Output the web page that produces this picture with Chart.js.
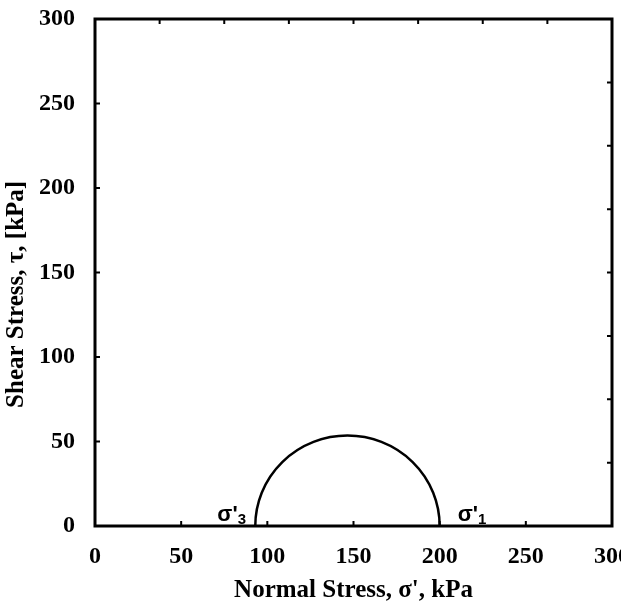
<!DOCTYPE html>
<html>
<head>
<meta charset="utf-8">
<script src="https://cdn.jsdelivr.net/npm/chart.js@4/dist/chart.umd.min.js"></script>
<style>
  html, body { margin: 0; padding: 0; background: #fff; overflow: hidden; }
  #wrap { width: 621px; height: 608px; }
</style>
</head>
<body>
<div id="wrap"><canvas id="myChart"></canvas></div>
<script>
// principal effective stresses (kPa)
const sigma3 = 93;
const sigma1 = 200;

const xTicks = [0, 50, 100, 150, 200, 250, 300];
const yTicks = [0, 50, 100, 150, 200, 250, 300];
// top / right axes have 8 divisions
const secondaryDivisions = 8;

const labelPoints = [
  { x: 71, main: "σ'", sub: "3" },
  { x: 210.5, main: "σ'", sub: "1" },
];

const serif = "'Liberation Serif', 'Times New Roman', serif";

// draws the box, inward tick marks, the Mohr circle and the sigma labels
const mohrPlugin = {
  id: "mohr",
  afterDatasetsDraw(chart) {
    const ctx = chart.ctx;
    const xs = chart.scales.x;
    const ys = chart.scales.y;
    const a = chart.chartArea;

    ctx.save();
    ctx.strokeStyle = "#000";
    ctx.lineWidth = 2.5;

    // circle (upper half) through the scales
    const cx = xs.getPixelForValue((sigma1 + sigma3) / 2);
    const rx = xs.getPixelForValue(sigma1) - cx;
    const cy = ys.getPixelForValue(0);
    const ry = cy - ys.getPixelForValue((sigma1 - sigma3) / 2);
    ctx.beginPath();
    ctx.ellipse(cx, cy, rx, ry, 0, Math.PI, 2 * Math.PI);
    ctx.stroke();

    // frame
    ctx.lineWidth = 3;
    ctx.strokeRect(a.left, a.top, a.right - a.left, a.bottom - a.top);

    // ticks
    ctx.lineWidth = 2;
    const len = 5;
    ctx.beginPath();
    xTicks.forEach((v) => {
      const px = xs.getPixelForValue(v);
      ctx.moveTo(px, a.bottom);
      ctx.lineTo(px, a.bottom - len);
    });
    yTicks.forEach((v) => {
      const py = ys.getPixelForValue(v);
      ctx.moveTo(a.left, py);
      ctx.lineTo(a.left + len, py);
    });
    for (let i = 1; i < secondaryDivisions; i++) {
      const px = a.left + ((a.right - a.left) * i) / secondaryDivisions;
      ctx.moveTo(px, a.top);
      ctx.lineTo(px, a.top + len);
      const py = a.top + ((a.bottom - a.top) * i) / secondaryDivisions;
      ctx.moveTo(a.right, py);
      ctx.lineTo(a.right - len, py);
    }
    ctx.stroke();

    // sigma labels
    ctx.fillStyle = "#000";
    ctx.textBaseline = "alphabetic";
    ctx.textAlign = "left";
    labelPoints.forEach((p) => {
      const px = xs.getPixelForValue(p.x);
      const py = ys.getPixelForValue(0) - 5;
      ctx.font = "bold 22px 'Liberation Sans', Arial, sans-serif";
      ctx.fillText(p.main, px, py);
      const w = ctx.measureText(p.main).width;
      ctx.font = "bold 15px 'Liberation Sans', Arial, sans-serif";
      ctx.fillText(p.sub, px + w, py + 3);
    });
    ctx.restore();
  },
};

const config = {
  type: "scatter",
  data: {
    datasets: [
      {
        label: "Mohr circle",
        data: [
          { x: sigma3, y: 0 },
          { x: sigma1, y: 0 },
        ],
        pointRadius: 0,
        showLine: false,
      },
    ],
  },
  options: {
    responsive: true,
    maintainAspectRatio: false,
    animation: false,
    layout: { padding: { top: 19, left: 2, right: 9, bottom: 2 } },
    plugins: {
      legend: { display: false },
      tooltip: { enabled: false },
    },
    scales: {
      x: {
        type: "linear",
        min: 0,
        max: 300,
        border: { display: false },
        grid: { display: false, drawTicks: false },
        afterFit: (scale) => {
          scale.height = 80;
          // let the last label run off the page, as in the original
          scale.paddingLeft = 0;
          scale.paddingRight = 0;
        },
        ticks: {
          stepSize: 50,
          color: "#000",
          padding: 16,
          maxRotation: 0,
          font: { family: serif, size: 24, weight: "bold" },
        },
        title: {
          display: true,
          text: "Normal Stress, σ', kPa",
          color: "#000",
          padding: { top: 8, bottom: 0 },
          font: { family: serif, size: 25, weight: "bold" },
        },
      },
      y: {
        type: "linear",
        min: 0,
        max: 300,
        border: { display: false },
        grid: { display: false, drawTicks: false },
        afterFit: (scale) => {
          scale.width = 93;
          scale.paddingTop = 0;
          scale.paddingBottom = 0;
        },
        ticks: {
          stepSize: 50,
          color: "#000",
          padding: 20,
          font: { family: serif, size: 24, weight: "bold" },
        },
        title: {
          display: true,
          // trailing spaces push the title a little below centre, as in the original
          text: "Shear Stress, τ, [kPa]\u00a0\u00a0\u00a0\u00a0\u00a0\u00a0\u00a0",
          color: "#000",
          padding: { top: 0, bottom: 9 },
          font: { family: serif, size: 25, weight: "bold" },
        },
      },
    },
  },
  plugins: [mohrPlugin],
};

const myChart = new Chart(document.getElementById("myChart"), config);
</script>
</body>
</html>
